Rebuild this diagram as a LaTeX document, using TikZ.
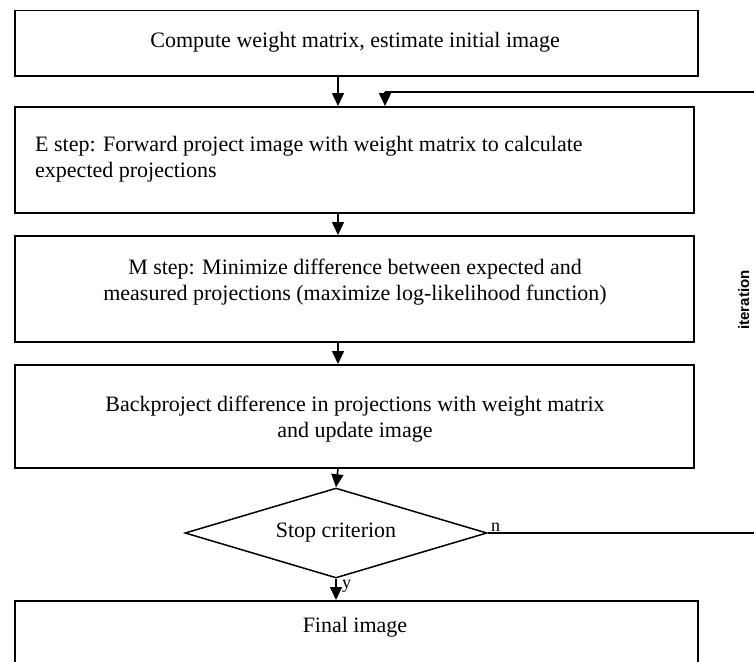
\documentclass[tikz,border=0pt]{standalone}
\usepackage{fontspec}
\setmainfont{Liberation Serif}
\setsansfont{Liberation Sans}
\usetikzlibrary{arrows.meta,shapes.geometric}
\begin{document}
\begin{tikzpicture}[x=1pt,y=-1pt,
  boxst/.style={draw, line width=1.5pt, inner sep=0pt, anchor=north west},
  txt/.style={font=\fontsize{22}{26}\selectfont, align=center, inner sep=0pt},
  arr/.style={line width=1.6pt, -{Triangle[width=12pt,length=13pt]}},
  lin/.style={line width=1.6pt}]
\clip (0,0) rectangle (754,661);
\fill[white] (0,0) rectangle (754,661);
\coordinate (ax) at (338,0);
% boxes
\node[boxst, minimum width=683pt, minimum height=65pt] (b1) at (14,10) {};
\node[boxst, minimum width=679pt, minimum height=106pt] (b2) at (14,106) {};
\node[boxst, minimum width=679pt, minimum height=106pt] (b3) at (14,235) {};
\node[boxst, minimum width=679pt, minimum height=103pt] (b4) at (14,364) {};
\node[boxst, minimum width=683pt, minimum height=130pt] (b5) at (14,600) {};
\node[draw, line width=1.5pt, shape=diamond, minimum width=302pt, minimum height=90pt, inner sep=0pt] (dia) at (336,533) {};
% texts
\node[txt] (t1) at (355,42) {Compute weight matrix, estimate initial image};
\node[txt, align=left, anchor=west] (t2) at (35,159) {E step: Forward project image with weight matrix to calculate\\expected projections};
\node[txt] (t3) at (355,282) {M step: Minimize difference between expected and\\measured projections (maximize log-likelihood function)};
\node[txt] (t4) at (355,419) {Backproject difference in projections with weight matrix\\and update image};
\node[txt] (t5) at (336,533) {Stop criterion};
\node[txt] (t6) at (355,627) {Final image};
\node[font=\sffamily\bfseries\fontsize{15}{18}\selectfont, rotate=90, anchor=north, inner sep=0pt] (it) at (738,300) {iteration};
\node[font=\fontsize{18}{20}\selectfont, anchor=south west, inner sep=1pt] (nl) at (490,533) {n};
\node[font=\fontsize{18}{20}\selectfont, anchor=west, inner sep=1pt] (yl) at (341,586) {y};
% arrows
\draw[arr] (b1.south -| ax) -- (b2.north -| ax);
\draw[arr] (b2.south -| ax) -- (b3.north -| ax);
\draw[arr] (b3.south -| ax) -- (b4.north -| ax);
\draw[arr] (b4.south -| ax) -- (dia.north);
\draw[arr] (dia.south) -- (b5.north -| dia.south);
% loop
\coordinate (lb) at (780,533);
\coordinate (lt) at (780,92);
\coordinate (la) at (385,92);
\draw[lin] (dia.east) -- (lb) -- (lt) -- (la);
\draw[arr] (la) -- (la |- b2.north);
\end{tikzpicture}
\end{document}
